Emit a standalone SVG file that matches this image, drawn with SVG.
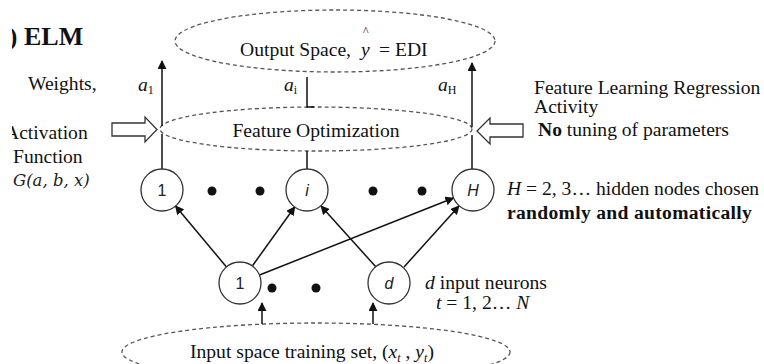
<svg xmlns="http://www.w3.org/2000/svg" width="764" height="364" viewBox="0 0 764 364">
<style>
.t{font-family:"Liberation Serif","Times New Roman",serif;font-size:19.6px;fill:#111}
.b{font-weight:bold}
.i{font-style:italic}
.n{font-family:"Liberation Sans",Arial,sans-serif;font-size:16px;fill:#222;text-anchor:middle}
.c{fill:#fff;stroke:#333;stroke-width:1.3}
.e{fill:none;stroke:#555;stroke-width:1.3;stroke-dasharray:4 3}
.l{stroke:#111;stroke-width:1.5;fill:none}
.h{fill:#fff;stroke:#333;stroke-width:1.3}
.d{fill:#111}
</style>
<defs>
<marker id="ar" viewBox="0 0 10 10" refX="9" refY="5" markerWidth="9" markerHeight="9" markerUnits="userSpaceOnUse" orient="auto">
<path d="M0,0 L10,5 L0,10 z" fill="#111"/>
</marker>
<clipPath id="cl"><rect x="12" y="0" width="200" height="364"/></clipPath>
</defs>

<g id="titles">
<text class="t b" x="9" y="45" style="font-size:25px" clip-path="url(#cl)">)</text>
<text class="t b" x="24" y="45" style="font-size:26px">ELM</text>
<text class="t" x="28" y="90">Weights,</text>
<text class="t" x="5" y="139" clip-path="url(#cl)">Activation</text>
<text class="t" x="13" y="163">Function</text>
<text class="t i" x="13" y="186" style="font-family:'DejaVu Serif',serif;font-size:16.5px;fill:#222">G(a, b, x)</text>
</g>

<g id="output-space">
<ellipse class="e" cx="335" cy="41" rx="160" ry="31"/>
<text class="t" x="240" y="56">Output Space,</text>
<text class="t i" x="361" y="56">y</text>
<text class="t" x="363" y="35" style="font-size:12px">^</text>
<text class="t" x="379" y="56">= EDI</text>
</g>

<g id="feature-optimization">
<ellipse class="e" cx="316" cy="129" rx="156" ry="22"/>
<text class="t" x="316" y="137" text-anchor="middle">Feature Optimization</text>
</g>

<g id="input-space">
<ellipse class="e" cx="316" cy="352" rx="194" ry="29"/>
<text class="t" x="190" y="358">Input space training set, (<tspan class="i">x</tspan><tspan class="i" style="font-size:12px" dy="4">t</tspan><tspan dy="-4"> , </tspan><tspan class="i">y</tspan><tspan class="i" style="font-size:12px" dy="4">t</tspan><tspan dy="-4">)</tspan></text>
</g>

<g id="labels">
<text class="t i" x="138" y="91">a<tspan style="font-size:12px;font-style:normal" dy="3">1</tspan></text>
<text class="t i" x="284" y="91">a<tspan style="font-size:12px;font-style:normal" dy="3">i</tspan></text>
<text class="t i" x="438" y="91">a<tspan style="font-size:12px;font-style:normal" dy="3">H</tspan></text>
<text class="t" x="534" y="94">Feature Learning Regression</text>
<text class="t" x="534" y="113">Activity</text>
<text class="t" x="538" y="136"><tspan class="b">No</tspan> tuning of parameters</text>
<text class="t" x="507" y="195"><tspan class="i">H</tspan> = 2, 3… hidden nodes chosen</text>
<text class="t b" x="507" y="219" letter-spacing="0.3">randomly and automatically</text>
<text class="t" x="425" y="289"><tspan class="i">d</tspan> input neurons</text>
<text class="t" x="436" y="309"><tspan class="i">t</tspan> = 1, 2… <tspan class="i">N</tspan></text>
</g>

<g id="hollow-arrows">
<polygon class="h" points="112,123 145,123 145,117 157,129.5 145,142 145,136 112,136"/>
<polygon class="h" points="523,124 490,124 490,118 477,131 490,144 490,137 523,137"/>
</g>

<g id="connectors">
<line class="l" x1="162" y1="169" x2="162" y2="134"/>
<line class="l" x1="162" y1="126" x2="162" y2="61" marker-end="url(#ar)"/>
<line class="l" x1="472" y1="169" x2="472" y2="135"/>
<line class="l" x1="472" y1="127" x2="472" y2="63" marker-end="url(#ar)"/>
<line class="l" x1="307" y1="169" x2="307" y2="151"/>
<path class="l" d="M307,77 V107 H314"/>
<line class="l" x1="226.5" y1="267" x2="175.5" y2="206" marker-end="url(#ar)"/>
<line class="l" x1="252.3" y1="266" x2="294.7" y2="207" marker-end="url(#ar)"/>
<line class="l" x1="259.5" y1="275" x2="453.5" y2="198" marker-end="url(#ar)"/>
<line class="l" x1="376" y1="267" x2="321" y2="206" marker-end="url(#ar)"/>
<line class="l" x1="404" y1="267" x2="459" y2="206" marker-end="url(#ar)"/>
<line class="l" x1="262" y1="324" x2="262" y2="303" marker-end="url(#ar)"/>
<line class="l" x1="373" y1="324" x2="373" y2="303" marker-end="url(#ar)"/>
</g>

<g id="hidden-1"><circle class="c" cx="162" cy="190" r="21"/><text class="n" x="162" y="196">1</text></g>
<g id="hidden-i"><circle class="c" cx="307" cy="190" r="21"/><text class="n" x="307" y="196" font-style="italic">i</text></g>
<g id="hidden-H"><circle class="c" cx="473" cy="190" r="21"/><text class="n" x="473" y="196" font-style="italic">H</text></g>
<g id="input-1"><circle class="c" cx="240" cy="283" r="21"/><text class="n" x="240" y="289">1</text></g>
<g id="input-d"><circle class="c" cx="389" cy="283" r="21"/><text class="n" x="389" y="289" font-style="italic">d</text></g>

<g id="dots">
<circle class="d" cx="212" cy="191" r="4.5"/>
<circle class="d" cx="260" cy="191" r="4.5"/>
<circle class="d" cx="373" cy="191" r="4.5"/>
<circle class="d" cx="422" cy="191" r="4.5"/>
<circle class="d" cx="272" cy="288" r="4.5"/>
<circle class="d" cx="316" cy="288" r="4.5"/>
</g>
</svg>
